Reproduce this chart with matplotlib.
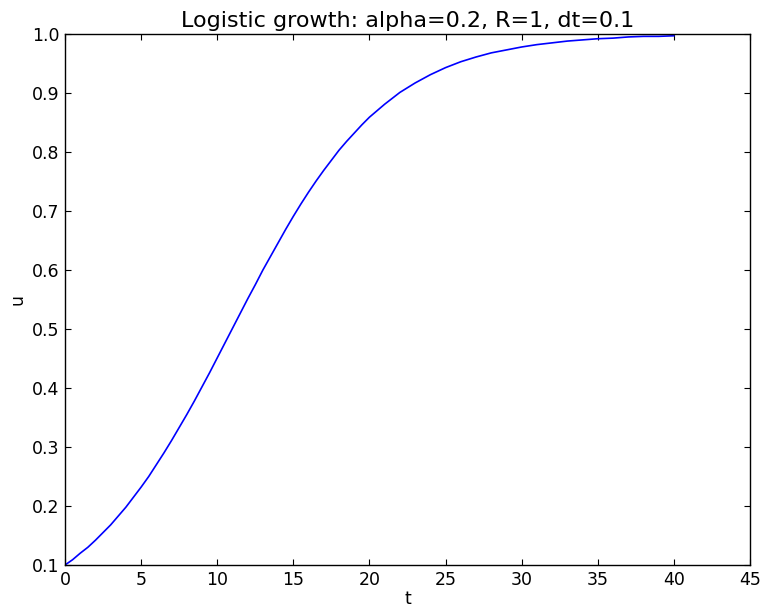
import matplotlib
matplotlib.use("Agg")
import matplotlib.pyplot as plt

# values
t = [0, 0.5, 1, 1.5, 2, 2.5, 3, 3.5, 4, 4.5, 5, 5.5, 6, 6.5, 7, 7.5, 8, 8.5,
     9, 9.5, 10, 10.5, 11, 11.5, 12, 12.5, 13, 13.5, 14, 14.5, 15, 15.5, 16,
     16.5, 17, 17.5, 18, 18.5, 19, 19.5, 20, 20.5, 21, 21.5, 22, 22.5, 23,
     23.5, 24, 24.5, 25, 26, 27, 28, 29, 30, 31, 32, 33, 34, 35, 36, 37, 38,
     39, 40]
u = [0.100, 0.109, 0.120, 0.130, 0.142, 0.155, 0.168, 0.183, 0.198, 0.215,
     0.232, 0.250, 0.270, 0.290, 0.311, 0.333, 0.355, 0.378, 0.402, 0.426,
     0.451, 0.476, 0.501, 0.526, 0.551, 0.575, 0.600, 0.623, 0.646, 0.669,
     0.691, 0.712, 0.732, 0.751, 0.769, 0.786, 0.803, 0.818, 0.832, 0.846,
     0.859, 0.870, 0.881, 0.891, 0.901, 0.909, 0.917, 0.924, 0.931, 0.937,
     0.943, 0.953, 0.961, 0.968, 0.973, 0.978, 0.982, 0.985, 0.988, 0.990,
     0.992, 0.993, 0.995, 0.996, 0.996, 0.997]
title = "Logistic growth: alpha=0.2, R=1, dt=0.1"
xticks = [0, 5, 10, 15, 20, 25, 30, 35, 40, 45]
yticks = [0.1, 0.2, 0.3, 0.4, 0.5, 0.6, 0.7, 0.8, 0.9, 1.0]

plt.rcParams['font.family'] = ['DejaVu Sans']
fig = plt.figure(figsize=(7.63, 6.08), dpi=100)
ax = fig.add_axes([65/763, 1 - 565/608, (750-65)/763, (565-34)/608])
ax.plot(t, u, color='blue', linewidth=1.2)
ax.set_xlim(0, 45)
ax.set_ylim(0.1, 1.0)
ax.set_xticks(xticks)
ax.set_yticks(yticks)
ax.set_xticklabels([str(v) for v in xticks])
ax.set_yticklabels([f"{v:.1f}" for v in yticks])
ax.tick_params(direction='in', top=True, right=True, length=4, width=0.8,
               labelsize=12.5, pad=4)
for s in ax.spines.values():
    s.set_linewidth(1.0)
ax.set_xlabel('t', fontsize=12.5, labelpad=1)
ax.set_ylabel('u', fontsize=12.5, labelpad=4)
ax.set_title(title, fontsize=16, pad=5)
fig.savefig('out.png', dpi=100)
